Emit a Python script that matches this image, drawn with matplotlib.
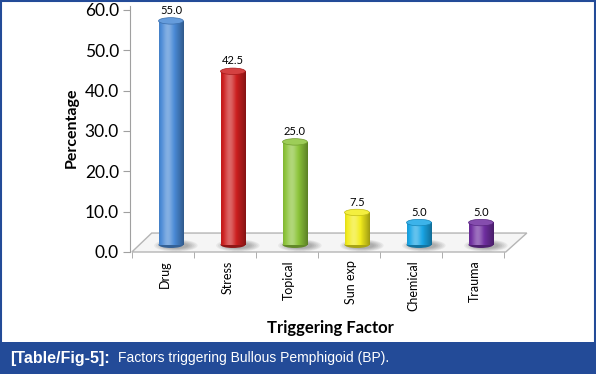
import numpy as np
import matplotlib.pyplot as plt
from matplotlib.patches import Polygon, Ellipse, Rectangle
from matplotlib.colors import to_rgb

factors = ["Drug", "Stress", "Topical", "Sun exp", "Chemical", "Trauma"]
percent = [55.0, 42.5, 25.0, 7.5, 5.0, 5.0]
colours = ["#4a8ad6", "#cc1f1f", "#8cc43a", "#f2ec1d", "#1aa6e6", "#6f2ea0"]
yticks = [0, 10, 20, 30, 40, 50, 60]

W, H = 596, 374
blue = "#234b98"

fig = plt.figure(figsize=(W / 100, H / 100), dpi=100)
ax = fig.add_axes([130 / W, (H - 252) / H, 430 / W, 242 / H])


def shade(col, b):
    c = np.array(to_rgb(col))
    if b > 0:
        return c + (1 - c) * b
    return c * (1 + b)


# floor of the 3d plot
floor = Polygon([(-0.47, 0), (5.56, 0), (5.9, 4.7), (-0.15, 4.7)],
                closed=True, facecolor="#f5f5f5", edgecolor="#b5b5b5",
                lw=1.0, zorder=1, clip_on=False)
ax.add_patch(floor)

x = np.arange(len(factors))
t = np.linspace(0, 1, 60)
bright = 0.32 * np.exp(-((t - 0.35) / 0.22) ** 2) - 0.35 * (np.abs(t - 0.35) / 0.65) ** 2
hw = 0.2
base = 1.8

for i, v in enumerate(percent):
    cx = x[i] + 0.16
    top = v + 2.3
    # soft shadow
    for k in range(6):
        ax.add_patch(Ellipse((cx + 0.08, base - 0.2), 0.7 - k * 0.06, 3.0 - k * 0.3,
                             facecolor="#303030", alpha=0.07, lw=0, zorder=2))
    grad = np.array([shade(colours[i], b) for b in bright])
    ax.add_patch(Ellipse((cx, base), 2 * hw, 1.6, facecolor=shade(colours[i], -0.3),
                         lw=0, zorder=2.9))
    ax.imshow(grad[None, :, :], extent=[cx - hw, cx + hw, base, top],
              aspect="auto", interpolation="bilinear", zorder=3)
    ax.add_patch(Ellipse((cx, top), 2 * hw, 1.6, facecolor=shade(colours[i], 0.15),
                         edgecolor=shade(colours[i], -0.2), lw=0.5, zorder=4))
    ax.text(cx, top + 1.2, f"{v:.1f}", ha="center", va="bottom",
            fontsize=8, family="Lato", zorder=5)

ax.set_xlim(-0.5, 6.435)
ax.set_ylim(0, 60)

for s in ["top", "right", "bottom"]:
    ax.spines[s].set_visible(False)
ax.spines["left"].set_color("#a0a0a0")
ax.spines["left"].set_bounds(0, 61)

ax.set_yticks(yticks)
ax.set_yticklabels([f"{v:.1f}" for v in yticks], fontsize=12.5, family="Lato")
ax.tick_params(axis="y", length=5, color="#a0a0a0", pad=3)

ax.set_xticks(x + 0.07)
ax.set_xticklabels(factors, rotation=90, fontsize=9, family="Lato")
ax.set_xticks(np.arange(-0.47, 6, 1.0), minor=True)
ax.tick_params(axis="x", which="major", length=0, pad=6)
ax.tick_params(axis="x", which="minor", length=4, color="#a0a0a0")

fig.text(330 / W, 1 - 328 / H, "Triggering Factor", ha="center", va="center",
         fontsize=12, fontweight="bold", family="Lato")
fig.text(72 / W, 1 - 128 / H, "Percentage", ha="center", va="center", rotation=90,
         fontsize=11.5, fontweight="bold", family="Lato")

# caption banner and frame
fig.add_artist(Rectangle((0, 0), 1, 32 / H, transform=fig.transFigure,
                         facecolor=blue, edgecolor="none"))
fig.add_artist(Rectangle((0.002, 0.003), 0.996, 0.994, transform=fig.transFigure,
                         fill=False, edgecolor=blue, lw=1.5))
fig.text(10 / W, 1 - 358 / H, "[Table/Fig-5]:", ha="left", va="center", color="white",
         fontsize=11.5, fontweight="bold", family="Liberation Sans")
fig.text(118 / W, 1 - 358 / H, "Factors triggering Bullous Pemphigoid (BP).", ha="left",
         va="center", color="white", fontsize=10, family="Liberation Sans")

fig.savefig("out.png", dpi=100)
